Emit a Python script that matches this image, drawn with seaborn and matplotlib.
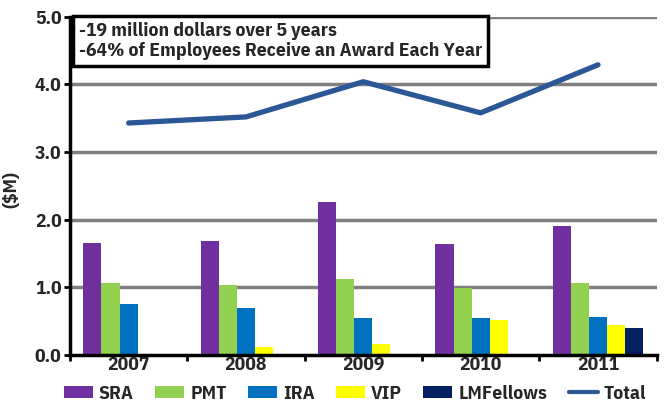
import numpy as np
import pandas as pd
import matplotlib
matplotlib.use("Agg")
import matplotlib.pyplot as plt
import seaborn as sns
from matplotlib.patches import Patch
from matplotlib.lines import Line2D

years = ["2007", "2008", "2009", "2010", "2011"]
sra = [1.65, 1.68, 2.26, 1.64, 1.91]
pmt = [1.06, 1.04, 1.12, 0.99, 1.06]
ira = [0.76, 0.70, 0.54, 0.54, 0.56]
vip = [0.0, 0.12, 0.16, 0.51, 0.44]
lmfellows = [0.0, 0.02, 0.02, 0.0, 0.40]
total = [3.43, 3.52, 4.04, 3.58, 4.29]
series_names = ["SRA", "PMT", "IRA", "VIP", "LMFellows"]
colors = ["#7030A0", "#92D050", "#0070C0", "#FFFF00", "#002060"]
line_color = "#2B5797"
note_lines = ["-19 million dollars over 5 years", "-64% of Employees Receive an Award Each Year"]
ylabel = "($M)"

sns.set_theme(style="white")
FONT = ["IBM Plex Sans Condensed", "Roboto Condensed", "DejaVu Sans"]
plt.rcParams["font.family"] = FONT
plt.rcParams["font.weight"] = "bold"

df = pd.DataFrame({
    "Year": np.repeat(years, len(series_names)),
    "Series": series_names * len(years),
    "Value": np.array([sra, pmt, ira, vip, lmfellows]).T.flatten(),
})

fig = plt.figure(figsize=(6.66, 4.05), dpi=100)
ax = fig.add_axes([0.105, 0.1235, 0.881, 0.835])

for y in [1, 2, 3, 4, 5]:
    ax.axhline(y, color="#808080", lw=2.5, zorder=0)

sns.barplot(data=df, x="Year", y="Value", hue="Series", hue_order=series_names,
            palette=colors, width=0.77, gap=0, ax=ax, legend=False,
            saturation=1, linewidth=0, zorder=2)
sns.lineplot(x=np.arange(len(years)), y=total, color=line_color, lw=3.8, ax=ax, zorder=3)

ax.set_xlim(-0.5, 4.5)
ax.set_ylim(0, 5)
ax.set_yticks([0, 1, 2, 3, 4, 5])
ax.set_yticklabels([f"{v:.1f}" for v in [0, 1, 2, 3, 4, 5]], fontsize=14, fontweight="bold")
ax.set_xticks(range(len(years)))
ax.set_xticklabels(years, fontsize=14, fontweight="bold")
ax.set_xlabel("")
ax.set_ylabel(ylabel, fontsize=14, fontweight="bold")
ax.yaxis.set_label_coords(-0.085, 0.49)
for s in ["top", "right"]:
    ax.spines[s].set_visible(False)
for s in ["left", "bottom"]:
    ax.spines[s].set_color("black")
    ax.spines[s].set_linewidth(2.5)
ax.tick_params(axis="x", length=0, pad=1)
ax.tick_params(axis="y", length=4, width=2, color="black", pad=2, left=True)
ax.set_xticks(np.arange(-0.5, 5.0, 1.0), minor=True)
ax.tick_params(axis="x", which="minor", length=4, width=2, color="black", bottom=True)

ax.text(0.015, 0.985, "\n".join(note_lines), transform=ax.transAxes, ha="left", va="top",
        fontsize=14, fontweight="bold", linespacing=1.15,
        bbox=dict(boxstyle="square,pad=0.3", facecolor="white", edgecolor="black", linewidth=2.5),
        zorder=5)

handles = [Patch(facecolor=c, edgecolor="none") for c in colors]
handles.append(Line2D([0], [0], color=line_color, lw=3))
fig.legend(handles, series_names + ["Total"], loc="center", ncol=6,
           bbox_to_anchor=(0.533, 0.028), frameon=False, columnspacing=1.1,
           handlelength=1.5, handleheight=0.6, handletextpad=0.3, borderpad=0, borderaxespad=0,
           prop={"size": 14, "weight": "bold"})

fig.savefig("out.png", dpi=100)
